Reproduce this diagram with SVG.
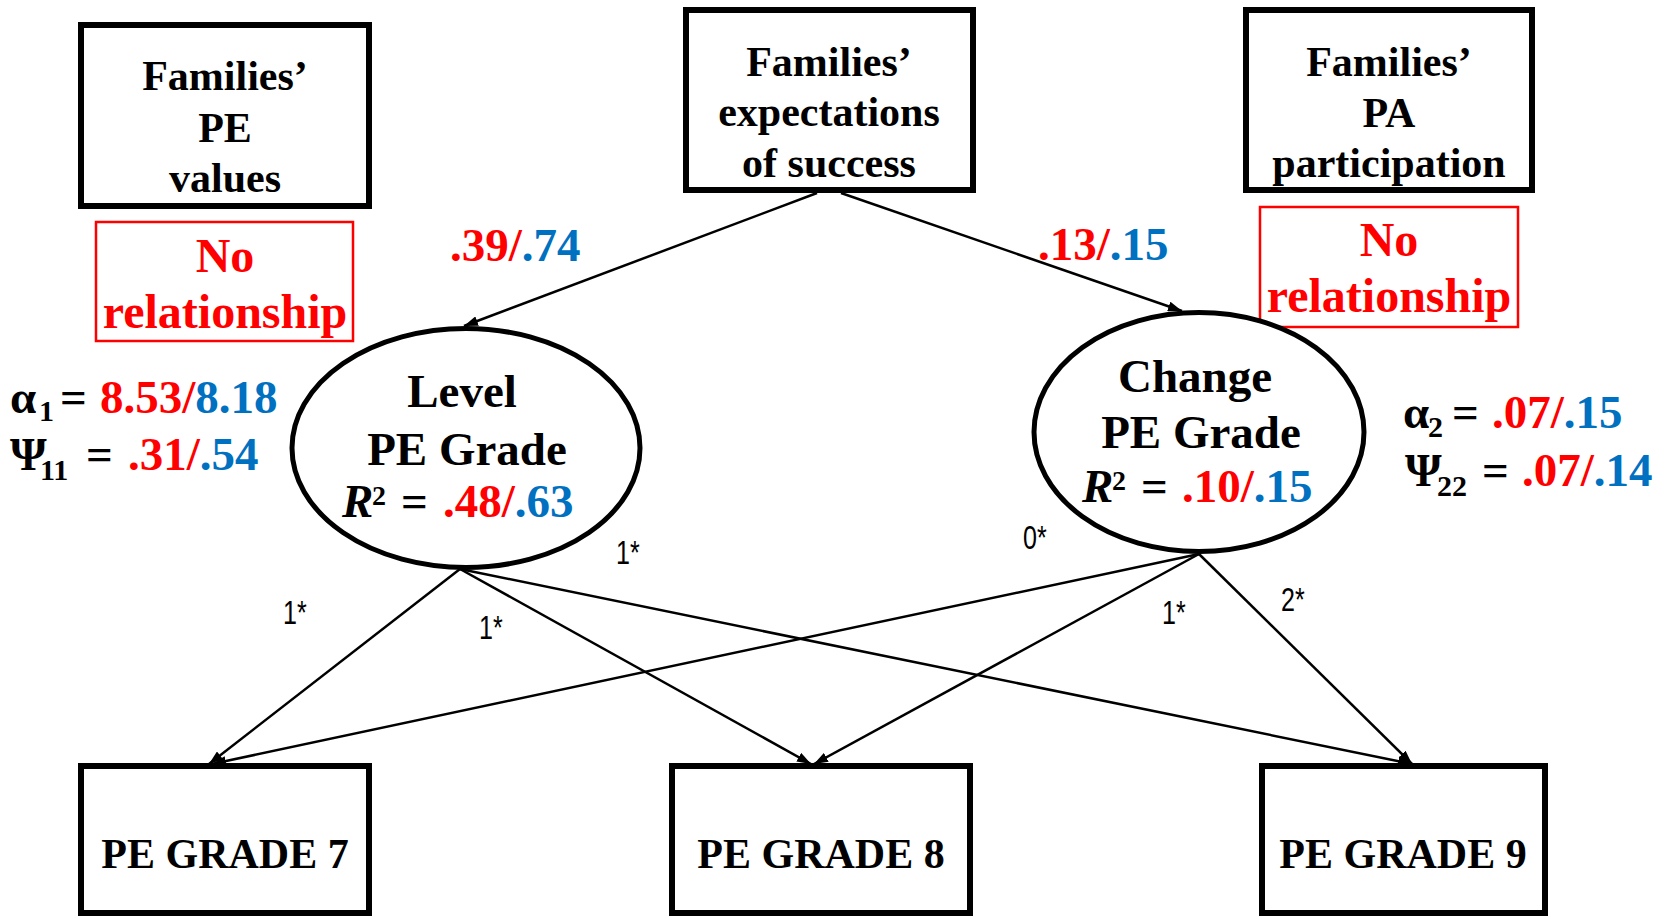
<svg xmlns="http://www.w3.org/2000/svg" width="1662" height="917" viewBox="0 0 1662 917">
  <defs>
    <style>
      .box { fill: #fff; stroke: #000; stroke-width: 6; }
      .note { fill: none; stroke: #ff0000; stroke-width: 2.5; }
      .latent { fill: #fff; stroke: #000; stroke-width: 5; }
      .edge { fill: none; stroke: #000; stroke-width: 2.5; }
      .t { font-family: "Liberation Serif", "Times New Roman", serif; font-weight: bold; fill: #000; }
      .bx { font-size: 42px; text-anchor: middle; }
      .big { font-size: 47px; }
      .nr { font-size: 48px; text-anchor: middle; }
      .mid { text-anchor: middle; }
      .sub { font-size: 30px; }
      .sup { font-size: 28px; }
      .r { fill: #ff0000; }
      .b { fill: #0070c0; }
      .lbl { font-family: "Liberation Sans Narrow", "Liberation Sans", Arial, sans-serif; font-size: 33px; fill: #000; }
    </style>
    <marker id="arrow" viewBox="0 0 14 10" refX="14" refY="5" markerWidth="14" markerHeight="10" markerUnits="userSpaceOnUse" orient="auto">
      <path d="M0,0 L14,5 L0,10 z" fill="#000"/>
    </marker>
  </defs>
  <rect x="0" y="0" width="1662" height="917" fill="#fff"/>

  <!-- paths between constructs -->
  <g id="connectors">
    <line class="edge" x1="817" y1="193" x2="464" y2="326" marker-end="url(#arrow)"/>
    <line class="edge" x1="841" y1="193" x2="1182" y2="311" marker-end="url(#arrow)"/>
    <line class="edge" x1="460" y1="569" x2="209" y2="764" marker-end="url(#arrow)"/>
    <line class="edge" x1="460" y1="569" x2="811" y2="764" marker-end="url(#arrow)"/>
    <line class="edge" x1="460" y1="569" x2="1412" y2="764" marker-end="url(#arrow)"/>
    <line class="edge" x1="1199" y1="554" x2="212" y2="764" marker-end="url(#arrow)"/>
    <line class="edge" x1="1199" y1="554" x2="814" y2="764" marker-end="url(#arrow)"/>
    <line class="edge" x1="1199" y1="554" x2="1412" y2="764" marker-end="url(#arrow)"/>
    <text class="lbl" transform="translate(283,624) scale(0.76,1)">1*</text>
    <text class="lbl" transform="translate(479,639) scale(0.76,1)">1*</text>
    <text class="lbl" transform="translate(616,564) scale(0.76,1)">1*</text>
    <text class="lbl" transform="translate(1023,549) scale(0.76,1)">0*</text>
    <text class="lbl" transform="translate(1162,624) scale(0.76,1)">1*</text>
    <text class="lbl" transform="translate(1281,611) scale(0.76,1)">2*</text>
    <text class="t big" x="450" y="261"><tspan class="r">.39/</tspan><tspan class="b">.74</tspan></text>
    <text class="t big" x="1038" y="260"><tspan class="r">.13/</tspan><tspan class="b">.15</tspan></text>
  </g>

  <!-- family predictors -->
  <g id="pe-values">
    <rect class="box" x="81" y="25" width="288" height="181"/>
    <text class="t bx" x="225" y="90">Families’</text>
    <text class="t bx" x="225" y="142">PE</text>
    <text class="t bx" x="225" y="192">values</text>
  </g>
  <g id="pe-values-note">
    <rect class="note" x="96" y="222" width="257" height="119"/>
    <text class="t nr r" x="225" y="272">No</text>
    <text class="t nr r" x="225" y="328">relationship</text>
  </g>
  <g id="expectations">
    <rect class="box" x="686" y="10" width="287" height="180"/>
    <text class="t bx" x="829" y="76">Families’</text>
    <text class="t bx" x="829" y="126">expectations</text>
    <text class="t bx" x="829" y="177">of success</text>
  </g>
  <g id="pa-participation">
    <rect class="box" x="1246" y="10" width="286" height="180"/>
    <text class="t bx" x="1389" y="76">Families’</text>
    <text class="t bx" x="1389" y="127">PA</text>
    <text class="t bx" x="1389" y="177">participation</text>
  </g>
  <g id="pa-participation-note">
    <rect class="note" x="1260" y="207" width="258" height="120"/>
    <text class="t nr r" x="1389" y="256">No</text>
    <text class="t nr r" x="1389" y="312">relationship</text>
  </g>

  <!-- growth factors -->
  <g id="level">
    <ellipse class="latent" cx="466" cy="448" rx="174" ry="119.5"/>
    <text class="t big mid" x="462" y="407">Level</text>
    <text class="t big mid" x="467" y="465">PE Grade</text>
    <text class="t big" x="342" y="517"><tspan font-style="italic">R</tspan><tspan class="sup" x="372" y="505">2</tspan><tspan x="401" y="517">=</tspan><tspan class="r" x="443">.48/</tspan><tspan class="b">.63</tspan></text>
  </g>
  <g id="level-params">
    <text class="t big" x="10" y="413">α<tspan class="sub" x="39" y="421">1</tspan><tspan x="60" y="413">=</tspan><tspan class="r" x="100">8.53/</tspan><tspan class="b">8.18</tspan></text>
    <text class="t big" x="10" y="470">Ψ<tspan class="sub" x="40" y="480">11</tspan><tspan x="86" y="470">=</tspan><tspan class="r" x="128">.31/</tspan><tspan class="b">.54</tspan></text>
  </g>
  <g id="change">
    <ellipse class="latent" cx="1199" cy="432" rx="165" ry="119.5"/>
    <text class="t big mid" x="1195" y="392">Change</text>
    <text class="t big mid" x="1201" y="448">PE Grade</text>
    <text class="t big" x="1082" y="502"><tspan font-style="italic">R</tspan><tspan class="sup" x="1112" y="490">2</tspan><tspan x="1141" y="502">=</tspan><tspan class="r" x="1182">.10/</tspan><tspan class="b">.15</tspan></text>
  </g>
  <g id="change-params">
    <text class="t big" x="1403" y="428">α<tspan class="sub" x="1428" y="437">2</tspan><tspan x="1452" y="428">=</tspan><tspan class="r" x="1492">.07/</tspan><tspan class="b">.15</tspan></text>
    <text class="t big" x="1405" y="486">Ψ<tspan class="sub" x="1437" y="496">22</tspan><tspan x="1482" y="486">=</tspan><tspan class="r" x="1522">.07/</tspan><tspan class="b">.14</tspan></text>
  </g>

  <!-- observed grades -->
  <g id="grade7">
    <rect class="box" x="81" y="766" width="288" height="147"/>
    <text class="t bx" x="225" y="868">PE GRADE 7</text>
  </g>
  <g id="grade8">
    <rect class="box" x="672" y="766" width="298" height="147"/>
    <text class="t bx" x="821" y="868">PE GRADE 8</text>
  </g>
  <g id="grade9">
    <rect class="box" x="1262" y="766" width="283" height="147"/>
    <text class="t bx" x="1403" y="868">PE GRADE 9</text>
  </g>
</svg>
